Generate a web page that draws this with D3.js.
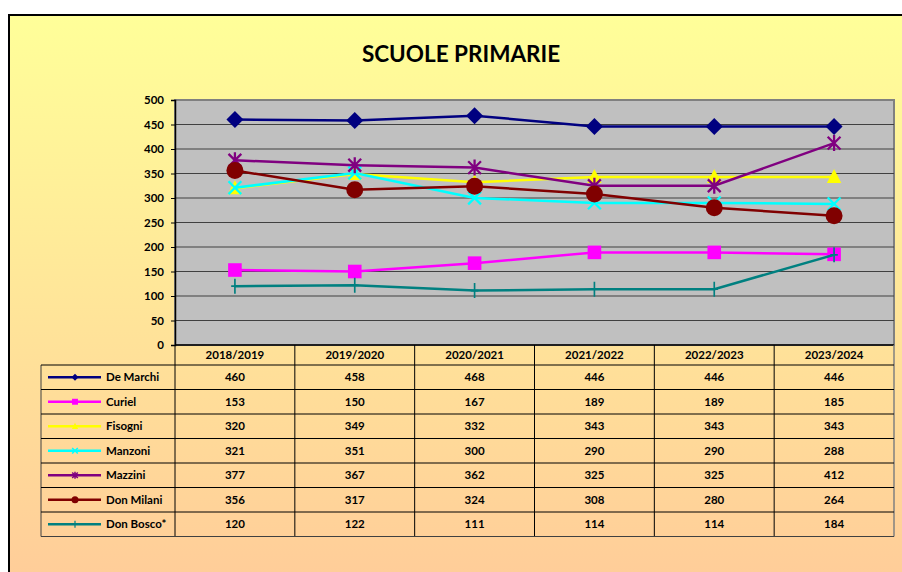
<!DOCTYPE html>
<html>
<head>
<meta charset="utf-8">
<script src="https://cdn.jsdelivr.net/npm/d3@7"></script>
<style>
  html, body { margin: 0; padding: 0; background: #fff; }
  svg { display: block; font-family: Lato, "Noto Sans", sans-serif; }
</style>
</head>
<body>
<div id="chart"></div>
<script>
// Anni scolastici (categorie)
var years = ["2018/2019", "2019/2020", "2020/2021", "2021/2022", "2022/2023", "2023/2024"];

// Iscritti per scuola
var deMarchi = [460, 458, 468, 446, 446, 446];
var curiel = [153, 150, 167, 189, 189, 185];
var fisogni = [320, 349, 332, 343, 343, 343];
var manzoni = [321, 351, 300, 290, 290, 288];
var mazzini = [377, 367, 362, 325, 325, 412];
var donMilani = [356, 317, 324, 308, 280, 264];
var donBosco = [120, 122, 111, 114, 114, 184];

var schoolNames = ["De Marchi", "Curiel", "Fisogni", "Manzoni", "Mazzini", "Don Milani", "Don Bosco*"];
var yTicks = [0, 50, 100, 150, 200, 250, 300, 350, 400, 450, 500];

var series = [
  { name: schoolNames[0], values: deMarchi, color: "#000080", marker: "diamond" },
  { name: schoolNames[1], values: curiel, color: "#FF00FF", marker: "square" },
  { name: schoolNames[2], values: fisogni, color: "#FFFF00", marker: "triangle" },
  { name: schoolNames[3], values: manzoni, color: "#00FFFF", marker: "x" },
  { name: schoolNames[4], values: mazzini, color: "#800080", marker: "star" },
  { name: schoolNames[5], values: donMilani, color: "#800000", marker: "circle" },
  { name: schoolNames[6], values: donBosco, color: "#008080", marker: "plus" }
];

var width = 902,
  height = 572,
  plot = { left: 175, top: 100, right: 894, bottom: 345 },
  rowH = 24.5,
  tableLeft = 41;

var svg = d3.select("#chart").append("svg")
  .attr("width", width)
  .attr("height", height);

// Sfondo sfumato
var defs = svg.append("defs");
var grad = defs.append("linearGradient")
  .attr("id", "bg")
  .attr("x1", 0).attr("y1", 0).attr("x2", 0).attr("y2", 1);
grad.append("stop").attr("offset", "0%").attr("stop-color", "#FFFF99");
grad.append("stop").attr("offset", "100%").attr("stop-color", "#FFCC99");

svg.append("rect")
  .attr("x", 9).attr("y", 15)
  .attr("width", width).attr("height", height)
  .attr("fill", "url(#bg)")
  .attr("stroke", "#000")
  .attr("stroke-width", 2);

// Titolo
svg.append("text")
  .attr("x", 461).attr("y", 62)
  .attr("text-anchor", "middle")
  .attr("font-size", 22.5)
  .attr("font-weight", "bold")
  .text("SCUOLE PRIMARIE");

// Scale
var x = d3.scaleBand()
  .domain(years)
  .range([plot.left, plot.right]);

var y = d3.scaleLinear()
  .domain([0, 500])
  .range([plot.bottom, plot.top]);

// Area del grafico
svg.append("rect")
  .attr("x", plot.left).attr("y", plot.top)
  .attr("width", plot.right - plot.left)
  .attr("height", plot.bottom - plot.top)
  .attr("fill", "#C0C0C0")
  .attr("stroke", "#808080")
  .attr("stroke-width", 2);

// Griglia
svg.append("g")
  .selectAll("line")
  .data(yTicks.slice(1, -1))
  .enter().append("line")
  .attr("x1", plot.left).attr("x2", plot.right)
  .attr("y1", d => y(d)).attr("y2", d => y(d))
  .attr("stroke", "#404040")
  .attr("stroke-width", 1);

// Asse Y
var yAxis = svg.append("g")
  .attr("transform", "translate(" + plot.left + ",0)")
  .call(d3.axisLeft(y).tickValues(yTicks).tickSize(4).tickPadding(7));
yAxis.select(".domain").attr("stroke", "#000").attr("stroke-width", 1.5);
yAxis.selectAll(".tick line").attr("stroke", "#000");
yAxis.selectAll("text")
  .attr("font-family", "Lato, sans-serif")
  .attr("font-size", 11.5)
  .attr("font-weight", "bold")
  .attr("fill", "#000");

svg.append("line")
  .attr("x1", plot.left).attr("x2", plot.right)
  .attr("y1", plot.bottom).attr("y2", plot.bottom)
  .attr("stroke", "#000").attr("stroke-width", 1.5);

// Simboli
function drawMarker(g, type, color, s) {
  var h = s / 2;
  if (type === "diamond") {
    g.append("path").attr("d", "M0," + (-h) + "L" + h + ",0L0," + h + "L" + (-h) + ",0Z").attr("fill", color);
  } else if (type === "square") {
    g.append("rect").attr("x", -h * 0.85).attr("y", -h * 0.85).attr("width", s * 0.85).attr("height", s * 0.85).attr("fill", color);
  } else if (type === "triangle") {
    g.append("path").attr("d", "M0," + (-h) + "L" + (h * 0.9) + "," + (h * 0.75) + "L" + (-h * 0.9) + "," + (h * 0.75) + "Z").attr("fill", color);
  } else if (type === "circle") {
    g.append("circle").attr("r", h).attr("fill", color);
  } else if (type === "x" || type === "star") {
    var k = h * 0.8;
    var p = "M" + (-k) + "," + (-k) + "L" + k + "," + k + "M" + k + "," + (-k) + "L" + (-k) + "," + k;
    if (type === "star") p += "M0," + (-h) + "L0," + h;
    g.append("path").attr("d", p).attr("stroke", color).attr("stroke-width", Math.max(1.5, s / 7)).attr("fill", "none");
  } else if (type === "plus") {
    g.append("path").attr("d", "M0," + (-h) + "L0," + h + "M" + (-h * 0.5) + ",0L" + (h * 0.5) + ",0")
      .attr("stroke", color).attr("stroke-width", Math.max(1.2, s / 9)).attr("fill", "none");
  }
}

var line = d3.line()
  .x((d, i) => x(years[i]) + x.bandwidth() / 2)
  .y(d => y(d));

var markerSize = { diamond: 17, square: 16, triangle: 16, circle: 17, x: 16, star: 16, plus: 15 };

var lines = svg.append("g").attr("class", "series");
series.forEach(function (s) {
  var g = lines.append("g");
  g.append("path")
    .attr("d", line(s.values))
    .attr("fill", "none")
    .attr("stroke", s.color)
    .attr("stroke-width", 2.5);
  s.values.forEach(function (v, i) {
    var m = g.append("g")
      .attr("transform", "translate(" + (x(years[i]) + x.bandwidth() / 2) + "," + y(v) + ")");
    drawMarker(m, s.marker, s.color, markerSize[s.marker]);
  });
});

// Tabella dati
var table = svg.append("g").attr("class", "table")
  .attr("font-size", 11.5)
  .attr("font-weight", "bold");

var tableTop = plot.bottom,
  rowsTop = tableTop + 20,
  tableBottom = rowsTop + rowH * series.length;

// intestazioni
table.selectAll(".hdr")
  .data(years)
  .enter().append("text")
  .attr("class", "hdr")
  .attr("x", d => x(d) + x.bandwidth() / 2)
  .attr("y", tableTop + 14)
  .attr("text-anchor", "middle")
  .text(d => d);

// linee verticali
table.selectAll(".vline")
  .data(years.slice(1))
  .enter().append("line")
  .attr("x1", d => x(d)).attr("x2", d => x(d))
  .attr("y1", tableTop).attr("y2", tableBottom)
  .attr("stroke", "#000").attr("stroke-width", 1);

table.append("line")
  .attr("x1", plot.left).attr("x2", plot.left)
  .attr("y1", tableTop).attr("y2", tableBottom)
  .attr("stroke", "#000");
table.append("line")
  .attr("x1", plot.right).attr("x2", plot.right)
  .attr("y1", tableTop).attr("y2", tableBottom)
  .attr("stroke", "#808080").attr("stroke-width", 1.5);
table.append("line")
  .attr("x1", tableLeft).attr("x2", tableLeft)
  .attr("y1", rowsTop).attr("y2", tableBottom)
  .attr("stroke", "#404040");

// linee orizzontali
table.selectAll(".hline")
  .data(d3.range(series.length + 1))
  .enter().append("line")
  .attr("x1", tableLeft).attr("x2", plot.right)
  .attr("y1", d => rowsTop + d * rowH).attr("y2", d => rowsTop + d * rowH)
  .attr("stroke", d => d === series.length ? "#404040" : "#000")
  .attr("stroke-width", 1);

series.forEach(function (s, r) {
  var cy = rowsTop + r * rowH + rowH / 2;
  var row = table.append("g");
  row.append("line")
    .attr("x1", 48).attr("x2", 101)
    .attr("y1", cy).attr("y2", cy)
    .attr("stroke", s.color).attr("stroke-width", 2.5);
  drawMarker(row.append("g").attr("transform", "translate(75," + cy + ")"), s.marker, s.color, 7);
  row.append("text")
    .attr("x", 106).attr("y", cy + 4)
    .text(s.name);
  row.selectAll(".val")
    .data(s.values)
    .enter().append("text")
    .attr("class", "val")
    .attr("x", (d, i) => x(years[i]) + x.bandwidth() / 2)
    .attr("y", cy + 4)
    .attr("text-anchor", "middle")
    .text(d => d);
});
</script>
</body>
</html>
